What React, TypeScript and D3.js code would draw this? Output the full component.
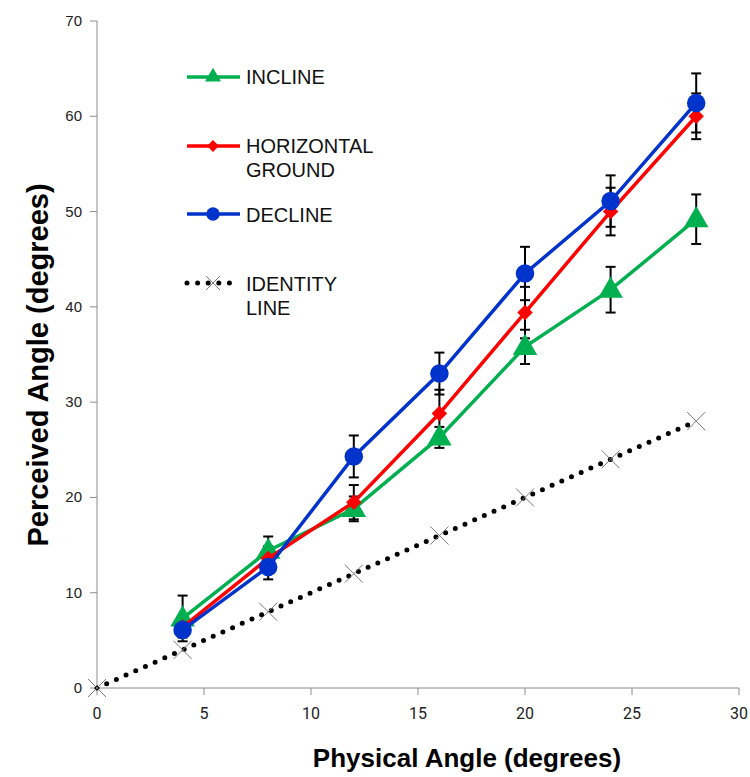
import React, { useRef, useEffect } from "react";
import * as d3 from "d3";

const physical = [4, 8, 12, 16, 20, 24, 28];
const incline = [7.3, 14.4, 18.8, 26.3, 35.8, 41.8, 49.2];
const inclineErr = [2.4, 1.5, 1.3, 1.1, 1.8, 2.4, 2.6];
const horizontal = [6.4, 13.6, 19.5, 28.8, 39.4, 50.0, 60.0];
const horizontalErr = [0.8, 1.3, 1.8, 2.5, 2.7, 2.5, 2.4];
const decline = [6.1, 12.7, 24.3, 33.0, 43.5, 51.1, 61.4];
const declineErr = [0.8, 1.3, 2.2, 2.2, 2.8, 2.7, 3.1];
const identityX = [0, 4, 8, 12, 16, 20, 24, 28];
const identityY = [0, 4, 8, 12, 16, 20, 24, 28];
const xTicks = [0, 5, 10, 15, 20, 25, 30];
const yTicks = [0, 10, 20, 30, 40, 50, 60, 70];

const GREEN = "#00b050";
const RED = "#ff0000";
const BLUE = "#0033cc";

const App = () => {
  const ref = useRef<SVGSVGElement>(null);

  useEffect(() => {
    const svg = d3.select(ref.current);
    svg.selectAll("*").remove();

    const x = d3.scaleLinear().domain([0, 30]).range([97, 739]);
    const y = d3.scaleLinear().domain([0, 70]).range([688, 21]);
    const axisColor = "#8c8c8c";

    // axes
    svg.append("line").attr("x1", x(0)).attr("x2", x(0)).attr("y1", y(70)).attr("y2", y(0))
      .attr("stroke", axisColor).attr("stroke-width", 1);
    svg.append("line").attr("x1", x(0)).attr("x2", x(30)).attr("y1", y(0)).attr("y2", y(0))
      .attr("stroke", axisColor).attr("stroke-width", 1);

    svg.selectAll(".ytick").data(yTicks).enter().append("line")
      .attr("x1", x(0) - 7).attr("x2", x(0)).attr("y1", (d) => y(d)).attr("y2", (d) => y(d))
      .attr("stroke", axisColor);
    svg.selectAll(".ylab").data(yTicks).enter().append("text")
      .attr("x", x(0) - 15).attr("y", (d) => y(d) + 5)
      .attr("text-anchor", "end")
      .style("font-family", "Arial, 'Liberation Sans', sans-serif")
      .style("font-size", "15px").attr("fill", "#222")
      .text((d) => d);

    svg.selectAll(".xtick").data(xTicks).enter().append("line")
      .attr("x1", (d) => x(d)).attr("x2", (d) => x(d)).attr("y1", y(0)).attr("y2", y(0) + 7)
      .attr("stroke", axisColor);
    svg.selectAll(".xlab").data(xTicks).enter().append("text")
      .attr("x", (d) => x(d)).attr("y", y(0) + 31)
      .attr("text-anchor", "middle")
      .style("font-family", "'Liberation Sans Narrow', 'Roboto', sans-serif")
      .style("font-size", "16px").attr("fill", "#222")
      .text((d) => d);

    // axis titles
    svg.append("text")
      .attr("x", 467).attr("y", 767)
      .attr("text-anchor", "middle")
      .style("font-family", "Arial, 'Liberation Sans', sans-serif")
      .style("font-size", "26px").style("font-weight", "bold")
      .text("Physical Angle (degrees)");
    svg.append("text")
      .attr("transform", `translate(48, 365) rotate(-90)`)
      .attr("text-anchor", "middle")
      .style("font-family", "Arial, 'Liberation Sans', sans-serif")
      .style("font-size", "29px").style("font-weight", "bold")
      .text("Perceived Angle (degrees)");

    // identity line
    const idData = identityX.map((v, i) => [v, identityY[i]] as [number, number]);
    const line = d3.line<[number, number]>().x((d) => x(d[0])).y((d) => y(d[1]));
    svg.append("path").attr("d", line(idData)).attr("fill", "none")
      .attr("stroke", "#000").attr("stroke-width", 5)
      .attr("stroke-linecap", "round").attr("stroke-dasharray", "0 10.6");
    const cross = (g: any, cx: number, cy: number, s: number) => {
      g.append("line").attr("x1", cx - s).attr("x2", cx + s).attr("y1", cy - s).attr("y2", cy + s)
        .attr("stroke", "#777").attr("stroke-width", 1);
      g.append("line").attr("x1", cx - s).attr("x2", cx + s).attr("y1", cy + s).attr("y2", cy - s)
        .attr("stroke", "#777").attr("stroke-width", 1);
    };
    idData.forEach((d) => cross(svg, x(d[0]), y(d[1]), 9));

    const series = [
      { vals: incline, err: inclineErr, color: GREEN, marker: "triangle" },
      { vals: horizontal, err: horizontalErr, color: RED, marker: "diamond" },
      { vals: decline, err: declineErr, color: BLUE, marker: "circle" },
    ];

    // error bars
    series.forEach((s) => {
      s.vals.forEach((v, i) => {
        const cx = x(physical[i]);
        const t = y(v + s.err[i]);
        const b = y(v - s.err[i]);
        svg.append("line").attr("x1", cx).attr("x2", cx).attr("y1", t).attr("y2", b)
          .attr("stroke", "#000").attr("stroke-width", 2);
        [t, b].forEach((yy) => {
          svg.append("line").attr("x1", cx - 5).attr("x2", cx + 5).attr("y1", yy).attr("y2", yy)
            .attr("stroke", "#000").attr("stroke-width", 2);
        });
      });
    });

    const sym = (m: string, size: number) =>
      d3.symbol().type(m === "triangle" ? d3.symbolTriangle : m === "diamond" ? d3.symbolSquare : d3.symbolCircle).size(size)();

    const markerSize: Record<string, number> = { triangle: 260, diamond: 120, circle: 270 };
    const rot = (m: string) => (m === "diamond" ? " rotate(45)" : "");

    series.forEach((s) => {
      const pts = s.vals.map((v, i) => [physical[i], v] as [number, number]);
      svg.append("path").attr("d", line(pts)).attr("fill", "none")
        .attr("stroke", s.color).attr("stroke-width", 3.5);
      pts.forEach((p) => {
        svg.append("path").attr("d", sym(s.marker, markerSize[s.marker]))
          .attr("transform", `translate(${x(p[0])},${y(p[1]) + (s.marker === "triangle" ? 1 : 0)})${rot(s.marker)}`)
          .attr("fill", s.color);
      });
    });

    // legend
    const legend = [
      { color: GREEN, marker: "triangle", ly: 77, labels: ["INCLINE"], ty: 84 },
      { color: RED, marker: "diamond", ly: 146, labels: ["HORIZONTAL", "GROUND"], ty: 153 },
      { color: BLUE, marker: "circle", ly: 214, labels: ["DECLINE"], ty: 222 },
      { color: "#000", marker: "identity", ly: 283, labels: ["IDENTITY", "LINE"], ty: 291 },
    ];
    legend.forEach((l) => {
      if (l.marker === "identity") {
        svg.append("line").attr("x1", 187).attr("x2", 240).attr("y1", l.ly).attr("y2", l.ly)
          .attr("stroke", "#000").attr("stroke-width", 5)
          .attr("stroke-linecap", "round").attr("stroke-dasharray", "0 10.6");
        cross(svg, 213, l.ly, 7);
      } else {
        svg.append("line").attr("x1", 187).attr("x2", 240).attr("y1", l.ly).attr("y2", l.ly)
          .attr("stroke", l.color).attr("stroke-width", 3.5);
        svg.append("path").attr("d", sym(l.marker, l.marker === "circle" ? 140 : l.marker === "diamond" ? 70 : 110))
          .attr("transform", `translate(213,${l.ly})${rot(l.marker)}`).attr("fill", l.color);
      }
      l.labels.forEach((t, i) => {
        svg.append("text").attr("x", 246).attr("y", l.ty + i * 24)
          .style("font-family", "Arial, 'Liberation Sans', sans-serif")
          .style("font-size", "20px").attr("fill", "#111")
          .text(t);
      });
    });
  }, []);

  return (
    <svg
      ref={ref}
      width={750}
      height={777}
      style={{ position: "absolute", left: 0, top: 0, background: "#fff" }}
    ></svg>
  );
};

export default App;
